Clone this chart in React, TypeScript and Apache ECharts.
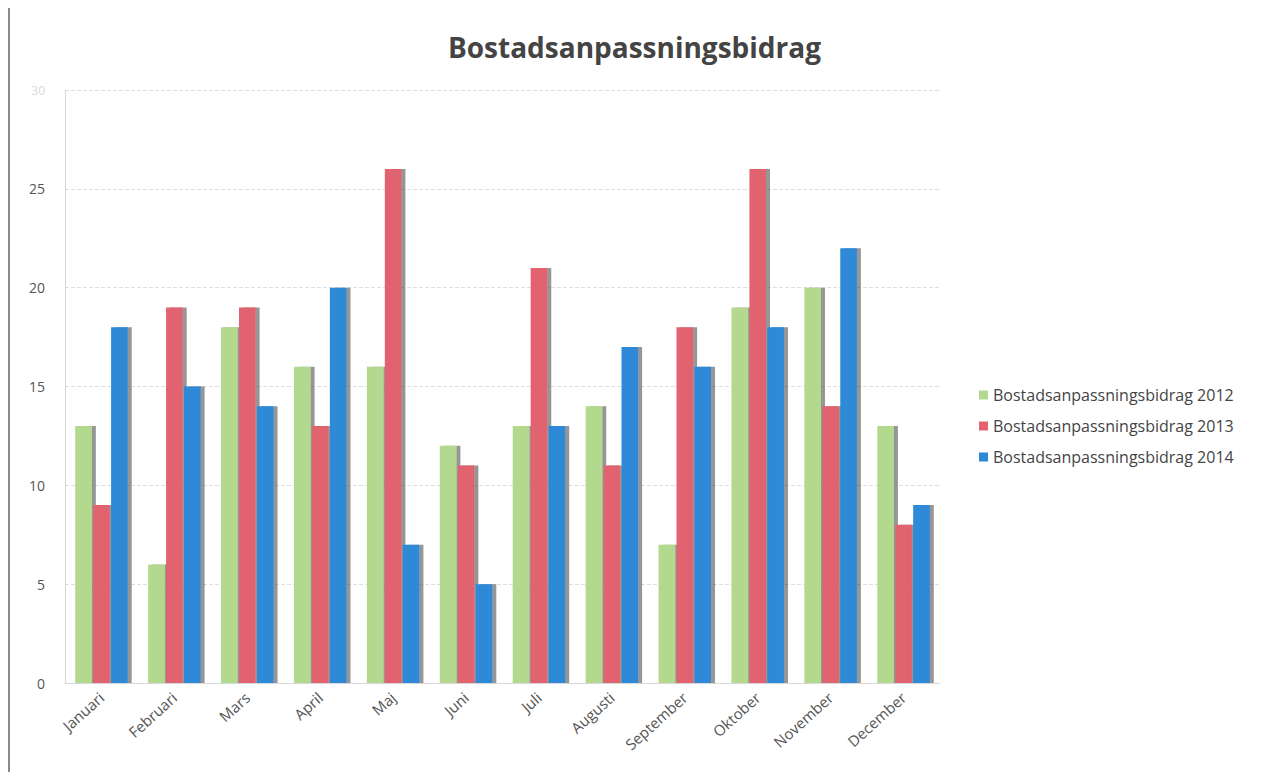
import React, { useEffect, useRef } from "react";
import * as echarts from "echarts";

const months = ["Januari", "Februari", "Mars", "April", "Maj", "Juni", "Juli", "Augusti", "September", "Oktober", "November", "December"];
const s2012 = [13, 6, 18, 16, 16, 12, 13, 14, 7, 19, 20, 13];
const s2013 = [9, 19, 19, 13, 26, 11, 21, 11, 18, 26, 14, 8];
const s2014 = [18, 15, 14, 20, 7, 5, 13, 17, 16, 18, 22, 9];
const seriesNames = ["Bostadsanpassningsbidrag 2012", "Bostadsanpassningsbidrag 2013", "Bostadsanpassningsbidrag 2014"];
const colors = ["#b3d98f", "#e2636f", "#2d8ad6"];

export default function App() {
  const ref = useRef<HTMLDivElement>(null);
  useEffect(() => {
    if (!ref.current) return;
    const chart = echarts.init(ref.current, undefined, { renderer: "svg" });
    const data = [s2012, s2013, s2014];
    chart.setOption({
      animation: false,
      backgroundColor: "#ffffff",
      textStyle: { fontFamily: "Open Sans" },
      title: {
        text: "Bostadsanpassningsbidrag",
        left: "center",
        top: 20,
        textStyle: { fontFamily: "Open Sans", fontSize: 28, fontWeight: "bold", color: "#444444" },
      },
      legend: {
        orient: "vertical",
        left: 966,
        top: 374,
        itemWidth: 9,
        itemHeight: 9,
        itemGap: 15,
        icon: "rect",
        textStyle: { fontFamily: "Open Sans", fontSize: 16, color: "#444" },
        data: seriesNames,
      },
      graphic: [
        { type: "line", shape: { x1: 1, y1: 0, x2: 1, y2: 780 }, style: { stroke: "#8a8a8a", lineWidth: 2 } },
        { type: "line", shape: { x1: 1258, y1: 0, x2: 1258, y2: 780 }, style: { stroke: "#e4e4e4", lineWidth: 1 } },
      ],
      grid: { left: 57, right: 321, top: 82, bottom: 89, containLabel: false },
      xAxis: {
        type: "category",
        data: months,
        axisLine: { lineStyle: { color: "#d8d8d8" } },
        axisTick: { show: false },
        axisLabel: { rotate: 42, color: "#555", fontSize: 15, fontFamily: "Open Sans", margin: 12 },
      },
      yAxis: {
        type: "value",
        min: 0,
        max: 30,
        interval: 5,
        axisLine: { show: true, lineStyle: { color: "#d8d8d8" } },
        axisTick: { show: false },
        axisLabel: {
          color: "#555",
          fontSize: 14,
          margin: 20,
          formatter: (v: number) => (v === 30 ? "{f|30}" : String(v)),
          rich: { f: { color: "#d8d8d8", fontSize: 12 } },
        },
        splitLine: { lineStyle: { color: "#dedede", type: "dashed" } },
      },
      series: seriesNames.map((name, i) => ({
        name,
        type: "bar",
        data: data[i],
        barGap: "8%",
        barCategoryGap: "28%",
        itemStyle: {
          color: colors[i],
          shadowColor: "rgba(60,60,60,0.55)",
          shadowOffsetX: 4,
          shadowOffsetY: 0,
          shadowBlur: 0,
        },
      })),
    });
    return () => chart.dispose();
  }, []);
  return <div ref={ref} style={{ width: 1253, height: 764 }} />;
}
